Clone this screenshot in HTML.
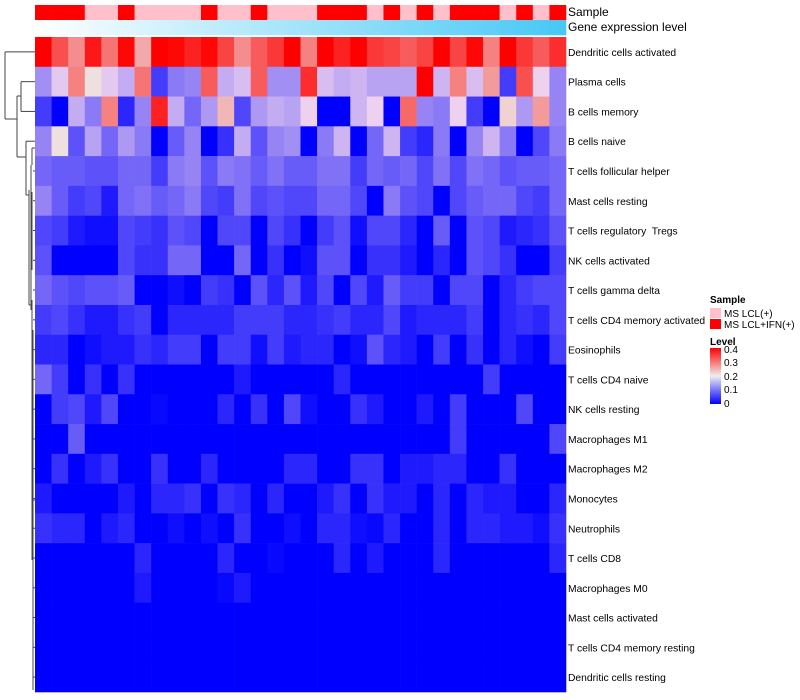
<!DOCTYPE html>
<html><head><meta charset="utf-8"><style>
body{margin:0;background:#fff;}
svg{display:block;font-family:"Liberation Sans",sans-serif;}
#labels text{white-space:pre;}
</style></head><body>
<svg id="chart" width="800" height="700" viewBox="0 0 800 700" xmlns="http://www.w3.org/2000/svg">
<defs>
<linearGradient id="gexp" x1="0" x2="1" y1="0" y2="0"><stop offset="0" stop-color="#ffffff"/><stop offset="1" stop-color="#46c8f5"/></linearGradient>
<linearGradient id="lvl" x1="0" x2="0" y1="1" y2="0"><stop offset="0" stop-color="#0000ff"/><stop offset="0.5" stop-color="#eeeeee"/><stop offset="1" stop-color="#ff0000"/></linearGradient>
</defs>
<g id="dendro" stroke="#444" stroke-width="1" fill="none"></g>
<g id="cells"></g>
<g id="labels" font-size="10.3" fill="#000"></g>
<text x="568" y="16" font-size="12">Sample</text>
<text x="568" y="31" font-size="12">Gene expression level</text>
<g font-size="10">
<text x="710" y="303" font-weight="bold">Sample</text>
<rect x="710" y="308" width="11" height="10" fill="#ffc0cb"/>
<text x="724" y="317">MS LCL(+)</text>
<rect x="710" y="319" width="11" height="10" fill="#ff0000"/>
<text x="724" y="328">MS LCL+IFN(+)</text>
<text x="710" y="345" font-weight="bold">Level</text>
<rect x="710" y="348" width="11" height="56" fill="url(#lvl)"/>
<text x="724" y="353">0.4</text>
<text x="724" y="366">0.3</text>
<text x="724" y="380">0.2</text>
<text x="724" y="393">0.1</text>
<text x="724" y="407">0</text>
</g>
</svg>
<script>
const rowNames=["Dendritic cells activated","Plasma cells","B cells memory","B cells naive","T cells follicular helper","Mast cells resting","T cells regulatory  Tregs","NK cells activated","T cells gamma delta","T cells CD4 memory activated","Eosinophils","T cells CD4 naive","NK cells resting","Macrophages M1","Macrophages M2","Monocytes","Neutrophils","T cells CD8","Macrophages M0","Mast cells activated","T cells CD4 memory resting","Dendritic cells resting"];
const sampleGroups=[1,1,1,0,0,1,0,0,0,0,1,0,0,1,0,0,0,1,1,1,0,1,0,1,0,1,1,1,0,1,0,1];
const r0=[.40,.32,.27,.37,.29,.39,.25,.40,.39,.36,.39,.33,.27,.31,.34,.40,.28,.40,.36,.40,.34,.33,.31,.33,.40,.33,.39,.28,.40,.34,.31,.35];
const r1=[.13,.19,.28,.21,.19,.16,.29,.05,.11,.12,.31,.16,.18,.31,.13,.13,.35,.18,.16,.17,.15,.15,.15,.40,.17,.28,.18,.26,.05,.32,.20,.12];
const r2=[.05,0,.16,.11,.28,.03,.12,.36,.16,.09,.14,.24,.06,.14,.16,.15,.20,0,0,.17,.20,0,.30,.12,.11,.20,.05,0,.22,.14,.26,.12];
const r3=[.12,.21,.07,.15,.09,.14,.11,0,.08,.12,0,.04,.16,.07,.12,.13,0,.11,.17,0,.09,.17,.05,.03,.11,0,.12,.17,.11,0,.06,.11];
const r4=[.09,.08,.08,.07,.07,.09,.09,.05,.11,.12,.07,.11,.10,.08,.10,.08,.08,.10,.10,.05,.09,.08,.09,.06,.10,.06,.10,.09,.07,.08,.08,.09];
const r5=[.12,.08,.05,.06,.02,.09,.10,.08,.09,.11,.06,.05,.10,.06,.07,.06,.06,.09,.09,.06,0,.11,.07,.06,0,.06,.08,.09,.09,.06,.05,.09];
const r6=[.06,.05,.02,.01,.01,.06,.05,.04,.07,.06,0,.06,.06,0,.06,.04,0,.05,.07,.01,.06,.06,.03,0,.08,0,.07,.06,.02,.03,.04,.07];
const r7=[.07,0,0,0,0,.06,.04,.04,.09,.09,0,0,.09,0,.04,0,.01,.07,.07,0,.04,.04,.02,0,.03,0,.07,.06,.04,0,0,.05];
const r8=[.09,.07,.06,.07,.07,.08,0,0,.01,0,.05,.04,0,.07,.03,.07,.02,.06,0,.06,.02,.08,.05,.05,0,.06,.06,0,.03,.05,.06,.06];
const r9=[.05,.06,.04,.02,.02,.04,.05,0,.03,.03,.03,.03,.05,.05,.05,.03,.03,.04,.05,.03,.03,.06,.02,.03,.03,.03,.05,0,.03,.04,.03,.06];
const r10=[.03,.03,0,.01,.02,.02,.04,.03,.05,.05,0,.05,.05,.01,.05,.02,.03,.03,0,.01,.07,.03,.02,0,.05,0,.04,0,.03,.01,0,.05];
const r11=[.09,.05,0,.04,0,.04,0,0,0,0,0,0,.02,0,0,0,0,0,.03,0,0,0,0,0,0,0,0,.05,0,0,0,0];
const r12=[0,.05,.06,.02,.06,0,0,.005,0,0,0,.03,0,.04,0,.06,.01,0,0,.04,.02,0,0,.02,0,.05,0,0,0,.06,0,0];
const r13=[0,0,.08,0,0,0,0,0,0,0,0,0,0,0,0,0,0,0,0,0,0,0,0,0,0,.05,0,0,0,0,0,.06];
const r14=[0,.04,0,.02,.04,0,0,.04,0,0,.03,0,0,0,0,.03,.03,0,0,.04,.04,0,.02,.02,.03,.03,0,0,.04,0,0,0];
const r15=[.02,0,0,0,0,.02,0,.03,.03,.04,0,.04,.03,0,.03,0,0,.02,.04,0,.04,.02,.02,0,.03,0,.03,.02,.02,0,0,.03];
const r16=[.04,.03,.03,0,.02,.03,0,0,.01,0,.01,0,.04,0,0,.01,0,.03,.03,.01,.005,.03,0,0,.03,0,.03,.03,.02,.02,.01,.04];
const r17=[0,0,0,0,0,0,.03,0,0,0,0,.03,0,0,.005,0,0,0,.03,0,.02,0,0,0,.03,0,0,0,0,0,0,.03];
const r18=[0,0,0,0,0,0,.02,0,0,0,0,.005,.02,0,0,0,0,0,0,0,0,0,0,0,0,0,0,0,0,0,0,0];
const r19=[0,0,0,0,0,0,0,0,0,0,0,0,0,0,0,0,0,0,0,0,0,0,0,0,0,0,0,0,0,0,0,0];
const r20=[0,0,0,0,0,0,0,0,0,0,0,0,0,0,0,0,0,0,0,0,0,0,0,0,0,0,0,0,0,0,0,0];
const r21=[0,0,0,0,0,0,0,0,0,0,0,0,0,0,0,0,0,0,0,0,0,0,0,0,0,0,0,0,0,0,0,0];
const values=[r0,r1,r2,r3,r4,r5,r6,r7,r8,r9,r10,r11,r12,r13,r14,r15,r16,r17,r18,r19,r20,r21];

const X0=35,X1=566,Y0=37,Y1=692;
const nC=sampleGroups.length,nR=rowNames.length;
const cw=(X1-X0)/nC,rh=(Y1-Y0)/nR;
const xPos=c=>X0+c*cw;
const yPos=r=>Y0+r*rh;
function color(v){
  if(v<=0.2){const t=Math.max(0,v)/0.2;const g=Math.round(238*Math.pow(t,0.9));return `rgb(${Math.round(g*1.0)},${Math.round(g*0.88)},${Math.round(255-17*t)})`;}
  const t=Math.min(1,(v-0.2)/0.2);const g=Math.round(238*Math.pow(1-t,1.2));return `rgb(${Math.round(238+17*t)},${g},${g})`;
}
const NS="http://www.w3.org/2000/svg";
const cells=document.getElementById('cells');
function rect(x,y,w,h,f){const e=document.createElementNS(NS,'rect');e.setAttribute('x',x);e.setAttribute('y',y);e.setAttribute('width',w+0.3);e.setAttribute('height',h+0.3);e.setAttribute('fill',f);cells.appendChild(e);return e;}
sampleGroups.forEach((g,c)=>{
  const e=rect(xPos(c),5,cw,15,g?'#ff0000':'#ffc0cb');
  
  
});
const ge=rect(X0,20,X1-X0,15,'url(#gexp)');


values.forEach((row,r)=>row.forEach((v,c)=>{
  const e=rect(xPos(c),yPos(r),cw,rh,color(v));
  
  
}));
const labels=document.getElementById('labels');
rowNames.forEach((n,r)=>{
  const t=document.createElementNS(NS,'text');
  t.setAttribute('x',568);t.setAttribute('y',yPos(r)+rh/2+4);t.textContent=n;
  
  
  labels.appendChild(t);
});
const d=document.getElementById('dendro');
function ln(x1,y1,x2,y2){const e=document.createElementNS(NS,'line');e.setAttribute('x1',x1);e.setAttribute('y1',y1);e.setAttribute('x2',x2);e.setAttribute('y2',y2);d.appendChild(e);}
const cy=r=>yPos(r)+rh/2;
ln(5,cy(0),35,cy(0)); ln(5,cy(0),5,119); ln(5,119,17,119);
ln(21,cy(1),35,cy(1)); ln(21,cy(2),35,cy(2)); ln(21,cy(1),21,cy(2)); ln(17,96,21,96);
ln(17,96,17,157); ln(17,157,26,157);
ln(26,cy(3),35,cy(3)); ln(26,cy(3),26,195); ln(26,195,29,195);
ln(29,190,29,305); ln(29,305,32,305);
ln(32,148,32,165); ln(32,148,35,148);
ln(31,165,31,310); ln(32,192,32,270); ln(32,300,32,350);
ln(32,310,32,560); ln(33,330,33,690); ln(33,500,35,500);
[4,5,6,7,8,9,10,11,12,13,14,15,16,17,18,19,20,21].forEach(r=>ln(33,cy(r),35,cy(r)));
</script>
</body></html>
